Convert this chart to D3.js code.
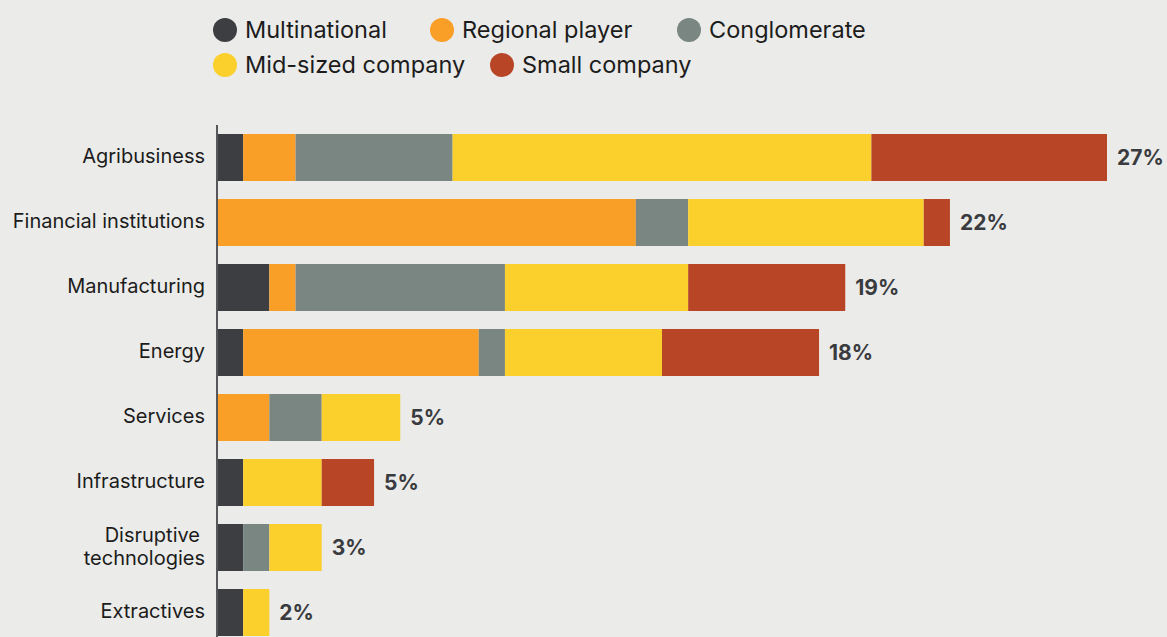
<!DOCTYPE html>
<html>
<head>
<meta charset="utf-8">
<script src="https://cdn.jsdelivr.net/npm/d3@7"></script>
<style>
  html, body { margin: 0; padding: 0; background: #ebebe9; }
  svg { display: block; font-family: Inter, "Noto Sans", sans-serif; }
</style>
</head>
<body>
<div id="chart"></div>
<script>
// number of companies per sector, by type
var sectors = ['Agribusiness', 'Financial institutions', 'Manufacturing', 'Energy',
               'Services', 'Infrastructure', 'Disruptive technologies', 'Extractives'];
var types = ['Multinational', 'Regional player', 'Conglomerate', 'Mid-sized company', 'Small company'];
var multinational = [1, 0, 2, 1, 0, 1, 1, 1];
var regional      = [2, 16, 1, 9, 2, 0, 0, 0];
var conglomerate  = [6, 2, 8, 1, 2, 0, 1, 0];
var midsized      = [16, 9, 7, 6, 3, 3, 2, 1];
var small         = [9, 1, 6, 6, 0, 2, 0, 0];
var shareLabels   = ['27%', '22%', '19%', '18%', '5%', '5%', '3%', '2%'];

var colors = ['#3d3e42', '#f99e26', '#798682', '#fbd02c', '#b84526'];

var width = 1167, height = 637;

var rows = sectors.map(function(s, i){
    return {
        sector: s,
        'Multinational': multinational[i],
        'Regional player': regional[i],
        'Conglomerate': conglomerate[i],
        'Mid-sized company': midsized[i],
        'Small company': small[i]
    };
});

var svg = d3.select('#chart')
    .append('svg')
    .attr('width', width)
    .attr('height', height);

var x = d3.scaleLinear()
    .domain([0, 34])
    .range([217, 1107]);

var y = d3.scaleBand()
    .domain(sectors)
    .range([125, 125 + 65 * sectors.length])
    .paddingInner(0.277)
    .paddingOuter(0.1385);

var color = d3.scaleOrdinal()
    .domain(types)
    .range(colors);

var stack = d3.stack().keys(types)(rows);

svg.selectAll('.layer')
    .data(stack)
    .enter()
    .append('g')
    .attr('class', 'layer')
    .attr('fill', function(d){ return color(d.key); })
    .selectAll('rect')
    .data(function(d){ return d; })
    .enter()
    .append('rect')
    .attr('x', function(d){ return x(d[0]); })
    .attr('width', function(d){ return x(d[1]) - x(d[0]); })
    .attr('y', function(d){ return y(d.data.sector); })
    .attr('height', y.bandwidth());

// axis line
svg.append('line')
    .attr('x1', 217).attr('x2', 217)
    .attr('y1', 125).attr('y2', height)
    .attr('stroke', '#55575a')
    .attr('stroke-width', 2);

// category labels
var labels = svg.selectAll('.cat')
    .data(sectors)
    .enter()
    .append('text')
    .attr('class', 'cat')
    .attr('text-anchor', 'end')
    .attr('x', 205)
    .attr('fill', '#1c1c1c')
    .style('font-size', '20px');

labels.each(function(d){
    var t = d3.select(this);
    var cy = y(d) + y.bandwidth() / 2;
    if (d === 'Disruptive technologies') {
        t.append('tspan').attr('x', 200).attr('y', cy - 6).text('Disruptive');
        t.append('tspan').attr('x', 205).attr('y', cy + 17).text('technologies');
    } else {
        t.attr('y', cy + 5).text(d);
    }
});

// totals
svg.selectAll('.total')
    .data(rows)
    .enter()
    .append('text')
    .attr('class', 'total')
    .attr('x', function(d){ return x(d3.sum(types, function(k){ return d[k]; })) + 10; })
    .attr('y', function(d){ return y(d.sector) + y.bandwidth() / 2 + 7; })
    .attr('fill', '#3a3b3f')
    .style('font-size', '21px')
    .style('font-weight', 700)
    .text(function(d, i){ return shareLabels[i]; });

// legend
var legendPos = [[225, 30], [442, 30], [689, 30], [225, 65], [502, 65]];
var legend = svg.selectAll('.legend')
    .data(types)
    .enter()
    .append('g')
    .attr('class', 'legend')
    .attr('transform', function(d, i){ return 'translate(' + legendPos[i][0] + ',' + legendPos[i][1] + ')'; });

legend.append('circle')
    .attr('r', 12)
    .attr('fill', function(d){ return color(d); });

legend.append('text')
    .attr('x', 20)
    .attr('y', 8)
    .attr('fill', '#1c1c1c')
    .style('font-size', '23.5px')
    .text(function(d){ return d; });
</script>
</body>
</html>
